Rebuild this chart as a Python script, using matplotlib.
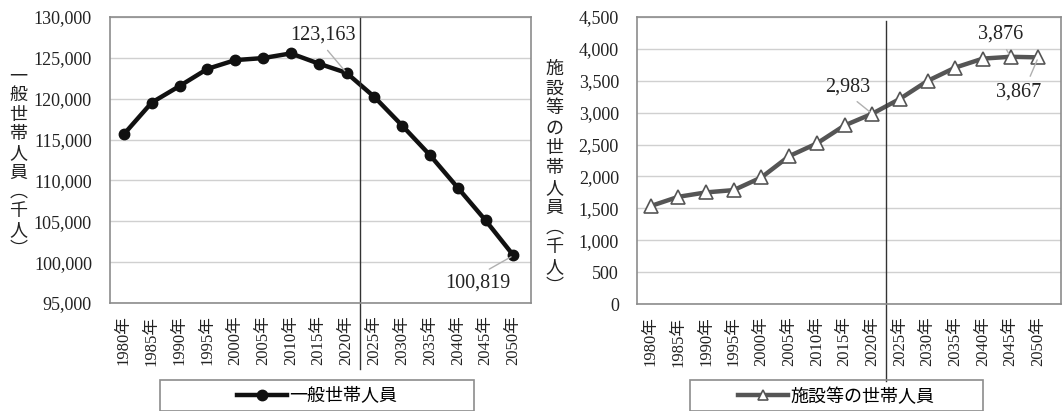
"""Two-panel chart: household members, general vs institutional."""

import matplotlib
matplotlib.use("Agg")
import matplotlib.pyplot as plt
from matplotlib.patches import Rectangle
from matplotlib.ticker import FuncFormatter

years = ["1980年", "1985年", "1990年", "1995年", "2000年", "2005年", "2010年", "2015年",
         "2020年", "2025年", "2030年", "2035年", "2040年", "2045年", "2050年"]
general = [115660, 119530, 121550, 123650, 124725, 124973, 125545, 124296,
           123163, 120220, 116710, 113090, 109100, 105100, 100819]
institution = [1536, 1681, 1750, 1786, 1985, 2318, 2517, 2799,
               2983, 3216, 3498, 3707, 3848, 3876, 3867]

FONT = ["Liberation Serif", "Noto Sans CJK JP", "DejaVu Sans"]
plt.rcParams["font.family"] = FONT

W, H = 1062, 411
fig = plt.figure(figsize=(W / 100, H / 100), dpi=100)


def px_axes(left, top, right, bottom):
    return fig.add_axes([left / W, 1 - bottom / H, (right - left) / W, (bottom - top) / H])


def style(ax, ylim, step, xlim):
    ax.set_xlim(*xlim)
    ax.set_ylim(*ylim)
    ax.set_yticks(range(ylim[0], ylim[1] + 1, step))
    ax.yaxis.set_major_formatter(FuncFormatter(lambda v, _: f"{int(v):,}"))
    ax.set_xticks(range(len(years)))
    ax.set_xticklabels(years, rotation=90)
    ax.tick_params(length=0, colors="#222222")
    ax.tick_params(axis="y", pad=13, labelsize=13)
    ax.tick_params(axis="x", pad=9, labelsize=12)
    ax.grid(axis="y", color="#d0d0d0", lw=1)
    ax.set_axisbelow(True)
    for s in ax.spines.values():
        s.set_color("#8c8c8c")
        s.set_linewidth(1.2)


def note(ax, i, vals, text, dx, dy, rel):
    ax.annotate(text, xy=(i, vals[i]), xytext=(dx, dy), textcoords="offset pixels",
                ha="center", va="center", fontsize=14.5, color="#222222",
                arrowprops=dict(arrowstyle="-", color="#b0b0b0", lw=1,
                                shrinkA=3, shrinkB=2, relpos=rel))


def legend_box(left, right, top):
    fig.patches.append(Rectangle((left / W, 0), (right - left) / W, 1 - top / H,
                                 transform=fig.transFigure, fill=False,
                                 ec="#8c8c8c", lw=1.2))


# left panel
ax1 = px_axes(110, 17, 531, 303)
style(ax1, (95000, 130000), 5000, (-0.5, 14.63))
l1, = ax1.plot(range(len(years)), general, color="#111111", lw=3.2, marker="o",
               ms=7.5, mfc="#111111", mec="#111111", label="一般世帯人員")
ax1.axvline(8.5, ymin=-0.23, ymax=1, color="#333333", lw=1, clip_on=False)
note(ax1, 8, general, "123,163", -24, 38, (0.5, 0))
note(ax1, 14, general, "100,819", -36, -28, (0.55, 1))
ax1.set_ylabel("\n".join("一般世帯人員︵千人︶"), rotation=0, fontsize=13,
               family=["Noto Sans CJK JP"], linespacing=1.09, va="center",
               labelpad=0, color="#222222")
ax1.yaxis.set_label_coords(-0.218, 0.49)
legend_box(160, 474, 380)
fig.legend(handles=[l1], loc="center", bbox_to_anchor=(317 / W, 1 - 397 / H),
           frameon=False, handlelength=2.8, handletextpad=0.1,
           prop={"family": FONT, "size": 13})

# right panel
ax2 = px_axes(637, 17, 1061, 304)
style(ax2, (0, 4500), 500, (-0.495, 14.82))
l2, = ax2.plot(range(len(years)), institution, color="#555555", lw=3.2, marker="^",
               ms=10, mfc="white", mec="#555555", mew=1.2, label="施設等の世帯人員")
ax2.axvline(8.5, ymin=-0.27, ymax=0.985, color="#333333", lw=1, clip_on=False)
note(ax2, 8, institution, "2,983", -24, 27, (0.55, 0))
note(ax2, 13, institution, "3,876", -10, 23, (0.55, 0))
note(ax2, 14, institution, "3,867", -20, -35, (0.7, 1))
ax2.set_ylabel("\n".join("施設等の世帯人員︵千人︶"), rotation=0, fontsize=13,
               family=["Noto Sans CJK JP"], linespacing=1.13, va="center",
               labelpad=0, color="#222222")
ax2.yaxis.set_label_coords(-0.195, 0.44)
legend_box(690, 983, 380)
fig.legend(handles=[l2], loc="center", bbox_to_anchor=(836 / W, 1 - 397 / H),
           frameon=False, handlelength=2.8, handletextpad=0.1, markerscale=0.75,
           prop={"family": FONT, "size": 13})

fig.savefig("out.png", dpi=100)
